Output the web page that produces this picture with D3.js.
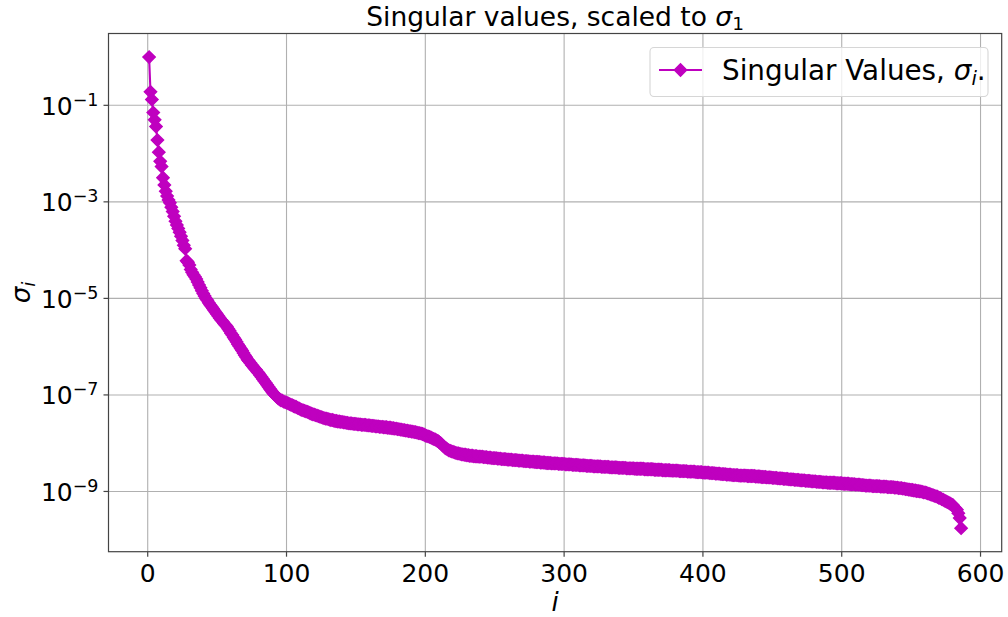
<!DOCTYPE html>
<html lang="en">
<head>
  <meta charset="UTF-8">
  <title>Singular values, scaled to sigma_1</title>
  <script src="https://d3js.org/d3.v7.min.js"></script>
  <style>
    body {
      margin: 0;
      background-color: #fff;
    }

    svg {
      font-family: "DejaVu Sans", sans-serif;
    }

    .grid line {
      stroke: #b0b0b0; /* matplotlib default grid colour */
      stroke-width: 1.1;
    }

    .spine {
      fill: none;
      stroke: #444;
      stroke-width: 1.2;
    }

    .tick-mark {
      stroke: #444;
      stroke-width: 1.2;
    }

    .tick-label {
      font-size: 25px;
      fill: #000;
    }

    .series-line {
      fill: none;
      stroke: #bf00bf;
      stroke-width: 2.1;
    }

    .marker {
      fill: #bf00bf;
      stroke: #bf00bf;
      stroke-width: 1.4;
    }
  </style>
</head>
<body>
  <svg id="chart"></svg>

  <script>
    // log10(sigma_i / sigma_1), i = 1 .. 586
    const sigmaLog10 = [
      0.00, -0.72, -0.88, -1.15, -1.30, -1.44, -1.72, -1.97, -2.16, -2.27,
      -2.50, -2.65, -2.78, -2.88, -2.96, -3.02, -3.11, -3.20, -3.30, -3.40,
      -3.48, -3.55, -3.63, -3.71, -3.80, -3.90, -3.97, -4.22, -4.25, -4.31,
      -4.40, -4.46, -4.51, -4.55, -4.60, -4.66, -4.72, -4.78, -4.84, -4.90,
      -4.95, -5.00, -5.04, -5.09, -5.13, -5.17, -5.21, -5.25, -5.29, -5.33,
      -5.37, -5.41, -5.45, -5.48, -5.52, -5.55, -5.58, -5.63, -5.67, -5.72,
      -5.76, -5.81, -5.85, -5.90, -5.95, -5.99, -6.04, -6.08, -6.13, -6.18,
      -6.22, -6.27, -6.30, -6.34, -6.38, -6.41, -6.45, -6.48, -6.52, -6.55,
      -6.59, -6.63, -6.67, -6.71, -6.75, -6.79, -6.83, -6.87, -6.91, -6.95,
      -6.98, -7.01, -7.04, -7.07, -7.09, -7.11, -7.12, -7.14, -7.15, -7.16,
      -7.17, -7.19, -7.20, -7.21, -7.23, -7.24, -7.25, -7.27, -7.28, -7.30,
      -7.31, -7.32, -7.33, -7.34, -7.35, -7.36, -7.38, -7.39, -7.40, -7.41,
      -7.42, -7.43, -7.44, -7.45, -7.46, -7.47, -7.48, -7.49, -7.49, -7.50,
      -7.51, -7.52, -7.52, -7.53, -7.54, -7.54, -7.55, -7.55, -7.56, -7.56,
      -7.57, -7.57, -7.58, -7.58, -7.59, -7.59, -7.59, -7.60, -7.60, -7.60,
      -7.61, -7.61, -7.61, -7.62, -7.62, -7.62, -7.62, -7.63, -7.63, -7.63,
      -7.64, -7.64, -7.64, -7.65, -7.65, -7.65, -7.66, -7.66, -7.66, -7.67,
      -7.67, -7.67, -7.68, -7.68, -7.68, -7.69, -7.69, -7.70, -7.70, -7.71,
      -7.71, -7.72, -7.72, -7.73, -7.73, -7.74, -7.74, -7.75, -7.75, -7.76,
      -7.76, -7.77, -7.77, -7.78, -7.79, -7.79, -7.80, -7.81, -7.82, -7.84,
      -7.85, -7.86, -7.87, -7.88, -7.90, -7.91, -7.92, -7.94, -7.95, -7.98,
      -8.00, -8.03, -8.06, -8.09, -8.11, -8.13, -8.15, -8.16, -8.17, -8.18,
      -8.19, -8.20, -8.21, -8.21, -8.22, -8.23, -8.23, -8.24, -8.24, -8.25,
      -8.25, -8.26, -8.26, -8.26, -8.27, -8.27, -8.27, -8.28, -8.28, -8.28,
      -8.28, -8.29, -8.29, -8.29, -8.30, -8.30, -8.30, -8.31, -8.31, -8.31,
      -8.31, -8.32, -8.32, -8.32, -8.33, -8.33, -8.33, -8.33, -8.34, -8.34,
      -8.34, -8.34, -8.35, -8.35, -8.35, -8.35, -8.36, -8.36, -8.36, -8.36,
      -8.37, -8.37, -8.37, -8.37, -8.38, -8.38, -8.38, -8.38, -8.39, -8.39,
      -8.39, -8.39, -8.40, -8.40, -8.40, -8.40, -8.41, -8.41, -8.41, -8.41,
      -8.42, -8.42, -8.42, -8.42, -8.42, -8.43, -8.43, -8.43, -8.43, -8.43,
      -8.44, -8.44, -8.44, -8.44, -8.44, -8.45, -8.45, -8.45, -8.45, -8.45,
      -8.46, -8.46, -8.46, -8.46, -8.46, -8.47, -8.47, -8.47, -8.47, -8.47,
      -8.48, -8.48, -8.48, -8.48, -8.48, -8.48, -8.49, -8.49, -8.49, -8.49,
      -8.49, -8.49, -8.50, -8.50, -8.50, -8.50, -8.50, -8.50, -8.51, -8.51,
      -8.51, -8.51, -8.51, -8.51, -8.52, -8.52, -8.52, -8.52, -8.52, -8.52,
      -8.53, -8.53, -8.53, -8.53, -8.53, -8.53, -8.53, -8.54, -8.54, -8.54,
      -8.54, -8.54, -8.54, -8.54, -8.55, -8.55, -8.55, -8.55, -8.55, -8.55,
      -8.56, -8.56, -8.56, -8.56, -8.56, -8.56, -8.57, -8.57, -8.57, -8.57,
      -8.57, -8.57, -8.58, -8.58, -8.58, -8.58, -8.58, -8.58, -8.59, -8.59,
      -8.59, -8.59, -8.59, -8.59, -8.60, -8.60, -8.60, -8.60, -8.60, -8.61,
      -8.61, -8.61, -8.61, -8.61, -8.62, -8.62, -8.62, -8.62, -8.63, -8.63,
      -8.63, -8.63, -8.64, -8.64, -8.64, -8.64, -8.65, -8.65, -8.65, -8.65,
      -8.66, -8.66, -8.66, -8.66, -8.66, -8.67, -8.67, -8.67, -8.67, -8.67,
      -8.67, -8.68, -8.68, -8.68, -8.68, -8.68, -8.68, -8.69, -8.69, -8.69,
      -8.69, -8.70, -8.70, -8.70, -8.70, -8.71, -8.71, -8.71, -8.71, -8.72,
      -8.72, -8.72, -8.72, -8.73, -8.73, -8.73, -8.73, -8.74, -8.74, -8.74,
      -8.74, -8.75, -8.75, -8.75, -8.75, -8.76, -8.76, -8.76, -8.76, -8.77,
      -8.77, -8.77, -8.77, -8.78, -8.78, -8.78, -8.78, -8.79, -8.79, -8.79,
      -8.79, -8.80, -8.80, -8.80, -8.80, -8.81, -8.81, -8.81, -8.81, -8.82,
      -8.82, -8.82, -8.82, -8.82, -8.82, -8.83, -8.83, -8.83, -8.83, -8.83,
      -8.84, -8.84, -8.84, -8.84, -8.84, -8.85, -8.85, -8.85, -8.85, -8.86,
      -8.86, -8.86, -8.86, -8.87, -8.87, -8.87, -8.88, -8.88, -8.88, -8.88,
      -8.88, -8.89, -8.89, -8.89, -8.89, -8.89, -8.89, -8.90, -8.90, -8.90,
      -8.90, -8.90, -8.91, -8.91, -8.91, -8.91, -8.91, -8.92, -8.92, -8.92,
      -8.93, -8.93, -8.93, -8.94, -8.94, -8.95, -8.95, -8.96, -8.96, -8.97,
      -8.97, -8.98, -8.98, -8.99, -8.99, -9.00, -9.00, -9.01, -9.02, -9.02,
      -9.03, -9.04, -9.05, -9.06, -9.07, -9.08, -9.09, -9.10, -9.11, -9.13,
      -9.14, -9.16, -9.17, -9.19, -9.20, -9.22, -9.23, -9.25, -9.27, -9.28,
      -9.32, -9.35, -9.38, -9.45, -9.55, -9.76
    ];

    const xTicks = [0, 100, 200, 300, 400, 500, 600];
    const yTickExponents = [-1, -3, -5, -7, -9];

    const width = 1008;
    const height = 617;
    const margin = {top: 33.5, right: 6.3, bottom: 65.3, left: 108.5};

    const points = sigmaLog10.map((e, k) => ({i: k + 1, value: Math.pow(10, e)}));

    const svg = d3.select("#chart")
      .attr("width", width)
      .attr("height", height);

    // matplotlib style 5% margins (linear in x, in log space for y)
    const xExtent = d3.extent(points, d => d.i);
    const xPad = (xExtent[1] - xExtent[0]) * 0.05;
    const x = d3.scaleLinear()
      .domain([xExtent[0] - xPad, xExtent[1] + xPad])
      .range([margin.left, width - margin.right]);

    const logExtent = d3.extent(sigmaLog10);
    const logPad = (logExtent[1] - logExtent[0]) * 0.05;
    const y = d3.scaleLog()
      .domain([Math.pow(10, logExtent[0] - logPad), Math.pow(10, logExtent[1] + logPad)])
      .range([height - margin.bottom, margin.top]);

    const yTicks = yTickExponents.map(e => Math.pow(10, e));

    // grid
    const grid = svg.append("g").attr("class", "grid");
    grid.selectAll(".gx")
      .data(xTicks)
      .enter().append("line")
      .attr("x1", d => x(d)).attr("x2", d => x(d))
      .attr("y1", margin.top).attr("y2", height - margin.bottom);
    grid.selectAll(".gy")
      .data(yTicks)
      .enter().append("line")
      .attr("x1", margin.left).attr("x2", width - margin.right)
      .attr("y1", d => y(d)).attr("y2", d => y(d));

    // clip for the data
    svg.append("clipPath").attr("id", "plot-clip")
      .append("rect")
      .attr("x", margin.left).attr("y", margin.top)
      .attr("width", width - margin.left - margin.right)
      .attr("height", height - margin.top - margin.bottom);

    const line = d3.line()
      .x(d => x(d.i))
      .y(d => y(d.value));

    const plot = svg.append("g").attr("clip-path", "url(#plot-clip)");

    plot.append("path")
      .datum(points)
      .attr("class", "series-line")
      .attr("d", line);

    // matplotlib 'D' marker = square turned 45 degrees
    const diamond = d3.symbol().type(d3.symbolSquare).size(76);

    plot.selectAll(".marker")
      .data(points)
      .enter().append("path")
      .attr("class", "marker")
      .attr("d", diamond)
      .attr("transform", d => `translate(${x(d.i)},${y(d.value)}) rotate(45)`);

    // spines
    svg.append("rect")
      .attr("class", "spine")
      .attr("x", margin.left).attr("y", margin.top)
      .attr("width", width - margin.left - margin.right)
      .attr("height", height - margin.top - margin.bottom);

    // x ticks
    const xAxis = svg.append("g");
    xAxis.selectAll("line")
      .data(xTicks)
      .enter().append("line")
      .attr("class", "tick-mark")
      .attr("x1", d => x(d)).attr("x2", d => x(d))
      .attr("y1", height - margin.bottom).attr("y2", height - margin.bottom + 5);
    xAxis.selectAll("text")
      .data(xTicks)
      .enter().append("text")
      .attr("class", "tick-label")
      .attr("x", d => x(d))
      .attr("y", height - margin.bottom + 30)
      .attr("text-anchor", "middle")
      .text(d => d);

    // y ticks, 10^k labels
    const yAxis = svg.append("g");
    yAxis.selectAll("line")
      .data(yTicks)
      .enter().append("line")
      .attr("class", "tick-mark")
      .attr("x1", margin.left - 5).attr("x2", margin.left)
      .attr("y1", d => y(d)).attr("y2", d => y(d));
    const yLabels = yAxis.selectAll("text")
      .data(yTickExponents)
      .enter().append("text")
      .attr("class", "tick-label")
      .attr("x", margin.left - 10)
      .attr("y", d => y(Math.pow(10, d)) + 9.5)
      .attr("text-anchor", "end");
    yLabels.append("tspan").text("10");
    yLabels.append("tspan")
      .attr("dy", -9)
      .attr("font-size", "17.5px")
      .text(d => "\u2212" + Math.abs(d));

    // title
    const title = svg.append("text")
      .attr("x", (margin.left + width - margin.right) / 2)
      .attr("y", 26)
      .attr("text-anchor", "middle")
      .attr("font-size", "26.5px");
    title.append("tspan").text("Singular values, scaled to ");
    title.append("tspan").attr("font-style", "italic").text("\u03c3");
    title.append("tspan").attr("font-size", "18.5px").attr("dy", 4).text("1");

    // axis labels
    svg.append("text")
      .attr("x", (margin.left + width - margin.right) / 2)
      .attr("y", 611)
      .attr("text-anchor", "middle")
      .attr("font-size", "26px")
      .attr("font-style", "italic")
      .text("i");

    const yLabel = svg.append("text")
      .attr("transform", `translate(30,${(margin.top + height - margin.bottom) / 2}) rotate(-90)`)
      .attr("text-anchor", "middle")
      .attr("font-size", "26px")
      .attr("font-style", "italic");
    yLabel.append("tspan").text("\u03c3");
    yLabel.append("tspan").attr("font-size", "18px").attr("dy", 5).text("i");

    // legend
    const legend = svg.append("g");
    legend.append("rect")
      .attr("x", 650).attr("y", 47.5)
      .attr("width", 338).attr("height", 49)
      .attr("rx", 4)
      .attr("fill", "#fff").attr("fill-opacity", 0.8)
      .attr("stroke", "#d6d6d6").attr("stroke-width", 1.1);
    legend.append("line")
      .attr("class", "series-line")
      .attr("x1", 659).attr("x2", 702)
      .attr("y1", 70).attr("y2", 70);
    legend.append("path")
      .attr("class", "marker")
      .attr("d", diamond)
      .attr("transform", "translate(680.5,70) rotate(45)");
    const legendText = legend.append("text")
      .attr("x", 722).attr("y", 79.5)
      .attr("font-size", "27.8px");
    legendText.append("tspan").text("Singular Values, ");
    legendText.append("tspan").attr("font-style", "italic").text("\u03c3");
    legendText.append("tspan").attr("font-style", "italic").attr("font-size", "19.5px").attr("dy", 5).text("i");
    legendText.append("tspan").attr("dy", -5).text(".");
  </script>
</body>
</html>
